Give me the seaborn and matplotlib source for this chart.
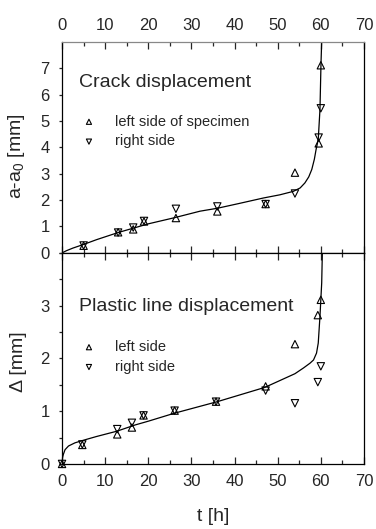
import seaborn as sns
import matplotlib.pyplot as plt
import pandas as pd
import numpy as np
from matplotlib.ticker import MultipleLocator

# Crack growth and plastic line displacement vs time

# crack displacement, measured points
t_crack = [5, 13, 16.5, 19, 26.4, 36, 47.2, 54, 59.5, 60]
crack_left = [0.27, 0.78, 0.89, 1.19, 1.32, 1.57, 1.85, 3.04, 4.15, 7.11]
crack_right = [0.28, 0.77, 0.96, 1.21, 1.67, 1.76, 1.85, 2.25, 4.37, 5.48]

# crack displacement, fitted curve
t_crack_fit = [0, 1, 2.5, 5, 8, 13, 20, 26, 32, 36, 41, 46.7, 50.5, 53.6, 55.2, 56.3,
               57.2, 57.9, 58.5, 58.9, 59.4, 59.8, 60.04, 60.25]
crack_fit = [0, 0.08, 0.18, 0.32, 0.5, 0.77, 1.1, 1.33, 1.58, 1.69, 1.87, 2.08, 2.2, 2.33,
             2.46, 2.65, 2.88, 3.16, 3.55, 3.92, 4.3, 5.44, 7.2, 8.3]

# plastic line displacement, measured points
t_plastic = [0, 4.7, 12.8, 16.2, 18.9, 26.1, 35.7, 47.2, 54, 59.3, 60]
plastic_left = [0, 0.36, 0.56, 0.69, 0.92, 1.01, 1.18, 1.47, 2.27, 2.82, 3.11]
plastic_right = [0, 0.37, 0.66, 0.78, 0.92, 1.01, 1.18, 1.39, 1.15, 1.55, 1.85]

# plastic line displacement, fitted curve
t_plastic_fit = [0, 0.3, 0.7, 1.5, 3, 5, 8, 12.7, 17, 20, 26, 36, 47, 54, 56, 57.5,
                 58.3, 59.0, 59.4, 59.8, 60.2, 60.4]
plastic_fit = [0.08, 0.18, 0.27, 0.34, 0.40, 0.45, 0.52, 0.62, 0.74, 0.81, 0.96, 1.18,
               1.45, 1.71, 1.82, 1.91, 1.97, 2.1, 2.29, 2.8, 3.43, 4.2]

sns.set_style("ticks")
plt.rcParams['font.family'] = ['Liberation Sans', 'DejaVu Sans']
plt.rcParams['mathtext.fontset'] = 'custom'
plt.rcParams['mathtext.rm'] = 'Liberation Sans'
plt.rcParams['mathtext.it'] = 'Liberation Sans'

fig = plt.figure(figsize=(3.76, 5.29), dpi=100)
ax1 = fig.add_axes([0.165, 0.522, 0.803, 0.399])
ax2 = fig.add_axes([0.165, 0.123, 0.803, 0.399])


def draw_panel(ax, t, left, right, t_fit, fit, title, lab_left, lab_right):
    sns.lineplot(x=t_fit, y=fit, color='black', linewidth=0.9, sort=False,
                 estimator=None, ax=ax)
    sns.scatterplot(x=t, y=left, marker='^', s=28, facecolors='none',
                    edgecolor='black', linewidth=0.8, label=lab_left, ax=ax,
                    clip_on=False, zorder=3)
    sns.scatterplot(x=t, y=right, marker='v', s=28, facecolors='none',
                    edgecolor='black', linewidth=0.8, label=lab_right, ax=ax,
                    clip_on=False, zorder=3)
    ax.text(0.056, title[1], title[0], transform=ax.transAxes, fontsize=14,
            va='baseline', ha='left')
    ax.set_xlim(0, 70)
    ax.xaxis.set_major_locator(MultipleLocator(10))
    ax.xaxis.set_minor_locator(MultipleLocator(5))
    for side in ['left', 'right', 'top', 'bottom']:
        ax.spines[side].set_color('black')
        ax.spines[side].set_linewidth(0.9)
    ax.tick_params(axis='x', which='major', direction='in', length=5, width=0.9,
                   top=True, bottom=True, labelsize=12)
    ax.tick_params(axis='x', which='minor', direction='in', length=3, width=0.9,
                   top=True, bottom=True)
    ax.tick_params(axis='y', which='both', direction='out', length=2.5, width=0.9,
                   labelsize=12, pad=6.5)


draw_panel(ax1, t_crack, crack_left, crack_right, t_crack_fit, crack_fit,
           ("Crack displacement", 0.784), "left side of specimen", "right side")
draw_panel(ax2, t_plastic, plastic_left, plastic_right, t_plastic_fit, plastic_fit,
           ("Plastic line displacement", 0.725), "left side", "right side")

# top panel: x labels on top only
ax1.set_ylim(0, 8)
ax1.set_yticks(range(0, 8))
ax1.tick_params(axis='x', which='both', labeltop=True, labelbottom=False, pad=6.5)
ax1.spines['top'].set_color('#888888')
ax1.set_ylabel("a-a$_0$ [mm]", fontsize=14)
ax1.yaxis.set_label_coords(-0.115, 0.46)

ax2.set_ylim(0, 4)
ax2.set_yticks(range(0, 4))
ax2.yaxis.set_minor_locator(MultipleLocator(0.5))
ax2.tick_params(axis='x', which='both', labeltop=False, labelbottom=True, pad=7)
ax2.set_xlabel("t [h]", fontsize=14, labelpad=14)
ax2.set_ylabel("\u0394 [mm]", fontsize=14)
ax2.yaxis.set_label_coords(-0.115, 0.483)

for ax, ytop in [(ax1, 0.655), (ax2, 0.587)]:
    ax.legend(loc='upper left', bbox_to_anchor=(0.065, ytop), frameon=False,
              fontsize=10.5, borderpad=0, borderaxespad=0, handlelength=1.0,
              handletextpad=1.28, labelspacing=0.4, markerscale=0.7)

plt.savefig('out.png', dpi=100)
